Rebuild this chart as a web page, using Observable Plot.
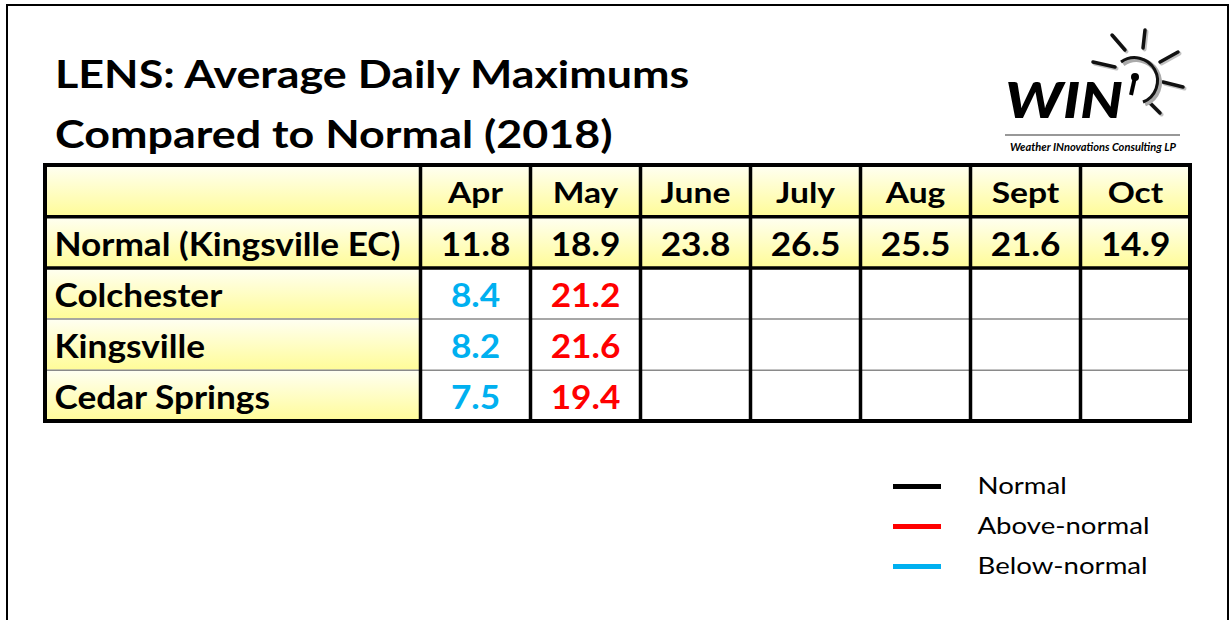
<!DOCTYPE html>
<html><head><meta charset="utf-8">
<script src="https://cdn.jsdelivr.net/npm/d3@7"></script>
<script src="https://cdn.jsdelivr.net/npm/@observablehq/plot@0.6"></script>
<style>
body{margin:0;background:#fff;font-family:Lato,"Open Sans",sans-serif;}
#page{position:relative;width:1231px;height:620px;overflow:hidden;background:#fff;}
#frame{position:absolute;left:6px;top:4px;width:1223px;height:700px;border:2px solid #000;box-sizing:border-box;}
#title{position:absolute;left:55px;top:43px;font-weight:700;font-size:38px;line-height:60px;color:#000;white-space:nowrap;transform:scaleX(1.18);transform-origin:0 0;}
#table{position:absolute;left:0;top:0;}
#legend{position:absolute;left:880px;top:465px;}
#logo{position:absolute;left:990px;top:20px;}
</style></head>
<body>
<div id="page">
  <div id="frame"></div>
  <div id="title">LENS: Average Daily Maximums<br>Compared to Normal (2018)</div>
  <div id="table"></div>
  <div id="legend"></div>
  <svg id="logo" width="200" height="140" viewBox="0 0 200 140">
    <g fill="#000">
      <g stroke="#999" stroke-width="4" stroke-linecap="round" opacity="0.6" transform="translate(1.5,1.5)">
        <line x1="103" y1="42" x2="125" y2="47"/>
        <line x1="122" y1="15" x2="135" y2="30"/>
        <line x1="155" y1="10" x2="153" y2="28"/>
        <line x1="188" y1="32" x2="170" y2="42"/>
        <line x1="193" y1="67" x2="173" y2="62"/>
        <line x1="170" y1="93" x2="159" y2="82"/>
      </g>
      <g stroke="#111" stroke-width="3.5" stroke-linecap="round">
        <line x1="103" y1="42" x2="125" y2="47"/>
        <line x1="122" y1="15" x2="135" y2="30"/>
        <line x1="155" y1="10" x2="153" y2="28"/>
        <line x1="188" y1="32" x2="170" y2="42"/>
        <line x1="193" y1="67" x2="173" y2="62"/>
        <line x1="170" y1="93" x2="159" y2="82"/>
      </g>
      <path d="M131,42 A23,23 0 1 1 153,82" fill="none" stroke="#aaa" stroke-width="5" transform="translate(2,2)"/>
      <path d="M131,42 A23,23 0 1 1 153,82" fill="none" stroke="#111" stroke-width="3"/>
      <circle cx="145" cy="57" r="4"/>
      <line x1="145" y1="57" x2="141" y2="75" stroke="#000" stroke-width="4"/>
      <text x="15" y="98" font-family="Lato" font-weight="900" font-style="italic" font-size="50" textLength="118" lengthAdjust="spacingAndGlyphs">WIN</text>
      <line x1="15" y1="115" x2="190" y2="115" stroke="#333" stroke-width="1.2"/>
      <text x="20" y="131" font-family="Lato" font-weight="700" font-style="italic" font-size="11" textLength="166" lengthAdjust="spacingAndGlyphs">Weather INnovations Consulting LP</text>
    </g>
  </svg>
</div>
<script>
// ---------- data ----------
const months = ["Apr", "May", "June", "July", "Aug", "Sept", "Oct"];
const normalLabel = "Normal (Kingsville EC)";
const normals = [11.8, 18.9, 23.8, 26.5, 25.5, 21.6, 14.9];
const stations = ["Colchester", "Kingsville", "Cedar Springs"];
const colchester = [8.4, 21.2];
const kingsville = [8.2, 21.6];
const cedarSprings = [7.5, 19.4];
const legendLabels = ["Normal", "Above-normal", "Below-normal"];
const legendColors = ["#000000", "#ff0000", "#00b0f0"];

// ---------- derived table ----------
const stationValues = [colchester, kingsville, cedarSprings];
const LABEL_W = 375 / 110;          // label column width in month-column units
const NCOL = months.length;
const TOTAL = LABEL_W + NCOL;
const NROW = 2 + stations.length;
const colX1 = i => LABEL_W + i;
const colMid = i => LABEL_W + i + 0.5;
const GRAD = "url(#yellowGrad)";

const cells = [];
for (let r = 0; r < NROW; r++) {
  cells.push({x1: 0, x2: LABEL_W, y1: r, y2: r + 1, fill: GRAD});
  for (let c = 0; c < NCOL; c++) {
    cells.push({x1: colX1(c), x2: colX1(c) + 1, y1: r, y2: r + 1, fill: r < 2 ? GRAD : "#ffffff"});
  }
}
const headerText = months.map((m, i) => ({x: colMid(i), y: 0.5, text: m}));
const normalText = normals.map((v, i) => ({x: colMid(i), y: 1.5, text: v.toFixed(1)}));
const rowLabels = [normalLabel, ...stations].map((s, i) => ({y: 1.5 + i, text: s}));
const valueText = [];
stationValues.forEach((vals, r) => vals.forEach((v, i) => {
  const color = v > normals[i] ? "#ff0000" : v < normals[i] ? "#00b0f0" : "#000000";
  valueText.push({x: colMid(i), y: 2.5 + r, text: v.toFixed(1), color});
}));
const vBounds = [LABEL_W, ...months.slice(1).map((_, i) => colX1(i + 1))];
const thickH = [1, 2];
const thinH = stations.slice(1).map((_, i) => 3 + i);

const table = Plot.plot({
  width: 1231, height: 620,
  margin: 0,
  style: {fontFamily: "Lato, 'Open Sans', sans-serif", background: "transparent", overflow: "visible"},
  x: {domain: [0, TOTAL], range: [45, 1190], axis: null},
  y: {domain: [0, NROW], range: [165, 421], axis: null},
  marks: [
    Plot.rect(cells, {x1: "x1", x2: "x2", y1: "y1", y2: "y2", fill: "fill"}),
    Plot.ruleY(thinH, {x1: 0, x2: TOTAL, stroke: "#8a8a8a", strokeWidth: 1.5}),
    Plot.ruleY(thickH, {x1: 0, x2: TOTAL, stroke: "#000", strokeWidth: 3.5}),
    Plot.ruleX(vBounds, {y1: 0, y2: NROW, stroke: "#000", strokeWidth: 3.5}),
    Plot.rect([{x1: 0, x2: TOTAL, y1: 0, y2: NROW}], {x1: "x1", x2: "x2", y1: "y1", y2: "y2", fill: "none", stroke: "#000", strokeWidth: 4}),
    Plot.text(headerText, {x: "x", y: "y", text: "text", fontSize: 28, fontWeight: 700, fill: "#000", dy: 3}),
    Plot.text(normalText, {x: "x", y: "y", text: "text", fontSize: 32, fontWeight: 700, fill: "#000", dy: 3}),
    Plot.text(rowLabels, {x: 0, y: "y", text: "text", textAnchor: "start", dx: 9, fontSize: 32, fontWeight: 700, fill: "#000", dy: 3}),
    Plot.text(valueText, {x: "x", y: "y", text: "text", fontSize: 32, fontWeight: 700, fill: "color", dy: 3})
  ]
});
const defs = d3.select(table).insert("defs", ":first-child");
const lg = defs.append("linearGradient").attr("id", "yellowGrad")
  .attr("x1", 0).attr("y1", 0).attr("x2", 0).attr("y2", 1);
lg.append("stop").attr("offset", "0%").attr("stop-color", "#fffff3");
lg.append("stop").attr("offset", "100%").attr("stop-color", "#fffc98");

// horizontally widen glyphs (Calibri-like proportions of the reference)
function widenText(svg, pick) {
  d3.select(svg).selectAll("g[aria-label=text]").each(function () {
    const k = pick(+this.getAttribute("font-size"));
    d3.select(this).selectAll("text").each(function () {
      const tr = this.getAttribute("transform") || "";
      this.setAttribute("transform", `${tr} scale(${k},1)`);
    });
  });
}
widenText(table, fs => fs === 28 ? 1.2 : 1.1);
document.getElementById("table").appendChild(table);

// ---------- legend ----------
const legendData = legendLabels.map((label, i) => ({label, color: legendColors[i]}));
const legend = Plot.plot({
  width: 330, height: 120, margin: 0,
  style: {fontFamily: "Lato, 'Open Sans', sans-serif", background: "transparent", overflow: "visible"},
  x: {domain: [0, 1], range: [13, 61], axis: null},
  y: {type: "point", domain: legendLabels, range: [20, 101], padding: 0, axis: null},
  marks: [
    Plot.ruleY(legendData, {y: "label", x1: 0, x2: 1, stroke: "color", strokeWidth: 5}),
    Plot.text(legendData, {y: "label", x: 1, dx: 36, text: "label", textAnchor: "start", fontSize: 23, fill: "#000"})
  ]
});
widenText(legend, () => 1.2);
document.getElementById("legend").appendChild(legend);
</script>
</body></html>
